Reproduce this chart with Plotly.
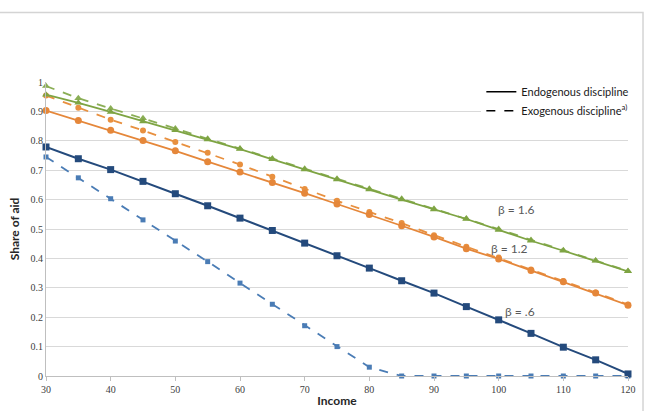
import plotly.graph_objects as go

income = [30, 35, 40, 45, 50, 55, 60, 65, 70, 75, 80, 85, 90, 95, 100, 105, 110, 115, 120]

endo_b16 = [0.957, 0.929, 0.898, 0.866, 0.836, 0.804, 0.772, 0.737, 0.702, 0.668,
            0.634, 0.600, 0.566, 0.534, 0.497, 0.460, 0.426, 0.392, 0.356]
exo_b16 = [0.986, 0.945, 0.910, 0.877, 0.842, 0.807, 0.774, 0.740, 0.705, 0.671,
           0.637, 0.603, 0.569, 0.536, 0.500, 0.463, 0.428, 0.393, 0.357]
endo_b12 = [0.903, 0.869, 0.836, 0.801, 0.766, 0.729, 0.694, 0.658, 0.622, 0.585,
            0.549, 0.511, 0.473, 0.433, 0.398, 0.359, 0.321, 0.282, 0.241]
exo_b12 = [0.954, 0.912, 0.872, 0.835, 0.796, 0.759, 0.719, 0.678, 0.636, 0.596,
           0.558, 0.520, 0.479, 0.440, 0.403, 0.362, 0.323, 0.284, 0.243]
endo_b06 = [0.779, 0.739, 0.702, 0.662, 0.620, 0.579, 0.537, 0.495, 0.452, 0.409,
            0.367, 0.324, 0.282, 0.236, 0.191, 0.145, 0.098, 0.055, 0.007]
exo_b06 = [0.745, 0.674, 0.603, 0.531, 0.459, 0.389, 0.316, 0.244, 0.171, 0.100,
           0.030, 0.0, 0.0, 0.0, 0.0, 0.0, 0.0, 0.0, 0.0]

beta_labels = ["β = 1.6", "β = 1.2", "β = .6"]
beta_label_x = [102.7, 101.7, 103.3]
beta_label_y = [0.566, 0.433, 0.221]

x_ticks = [30, 40, 50, 60, 70, 80, 90, 100, 110, 120]

GREEN = "#7EA443"
GREEN_D = "#8AAE55"
ORANGE = "#E5873A"
ORANGE_D = "#E8903F"
NAVY = "#244A7C"
BLUE_D = "#4A7CB5"

fig = go.Figure()

def add(y, color, dash, symbol, size, width):
    fig.add_trace(go.Scatter(
        x=income, y=y, mode="lines+markers", showlegend=False,
        line=dict(color=color, width=width, dash=dash),
        marker=dict(symbol=symbol, size=size, color=color),
        cliponaxis=False))

add(exo_b16, GREEN_D, "dash", "triangle-up", 7, 1.8)
add(exo_b12, ORANGE_D, "dash", "circle", 6, 1.8)
add(exo_b06, BLUE_D, "dash", "square", 5, 1.8)
add(endo_b16, GREEN, "solid", "triangle-up", 7, 1.8)
add(endo_b12, ORANGE, "solid", "circle", 7, 1.8)
add(endo_b06, NAVY, "solid", "square", 7, 2.0)

# legend entries
fig.add_trace(go.Scatter(x=[None], y=[None], mode="lines", name="Endogenous discipline",
                         line=dict(color="black", width=1.5)))
fig.add_trace(go.Scatter(x=[None], y=[None], mode="lines", name="Exogenous discipline<sup>a)</sup>",
                         line=dict(color="black", width=1.5, dash="dash")))

for t, x, y in zip(beta_labels, beta_label_x, beta_label_y):
    fig.add_annotation(x=x, y=y, xref="x", yref="y", text=t, showarrow=False,
                       font=dict(family="Lato, sans-serif", size=12, color="#595959"))

# outer chart frame
fig.add_shape(type="rect", xref="paper", yref="paper",
              x0=-0.085, x1=1.0258, y0=-0.125, y1=1.2368,
              line=dict(color="#D4D4D4", width=1.5), layer="below")

fig.update_layout(
    width=648, height=411,
    margin=dict(l=46, r=20, t=82, b=35),
    paper_bgcolor="white", plot_bgcolor="white",
    font=dict(family="Lato, sans-serif", color="#333333"),
    legend=dict(x=0.748, y=1.016, xanchor="left", yanchor="top",
                bgcolor="white", borderwidth=0,
                font=dict(family="Lato, sans-serif", size=11, color="#1a1a1a"),
                tracegroupgap=0, itemwidth=30),
    xaxis=dict(range=[30, 120], tickvals=x_ticks, showgrid=False, zeroline=False,
               showline=True, linecolor="#BFBFBF", linewidth=1, automargin=False,
               ticks="outside", ticklen=4, tickcolor="#BFBFBF",
               tickfont=dict(family="Liberation Serif, serif", size=10, color="#404040"),
               title=dict(text="<b>Income</b>", standoff=2,
                          font=dict(family="Lato, sans-serif", size=12, color="#262626"))),
    yaxis=dict(range=[0, 1], dtick=0.1, showgrid=True, gridcolor="#D9D9D9", gridwidth=1,
               zeroline=False, showline=True, linecolor="#BFBFBF", linewidth=1,
               ticks="", tickformat="~g", automargin=False,
               tickfont=dict(family="Liberation Serif, serif", size=10, color="#404040"),
               title=dict(text="<b>Share of aid</b>", standoff=8,
                          font=dict(family="Lato, sans-serif", size=12, color="#262626"))),
)

fig.write_html("out.html")
